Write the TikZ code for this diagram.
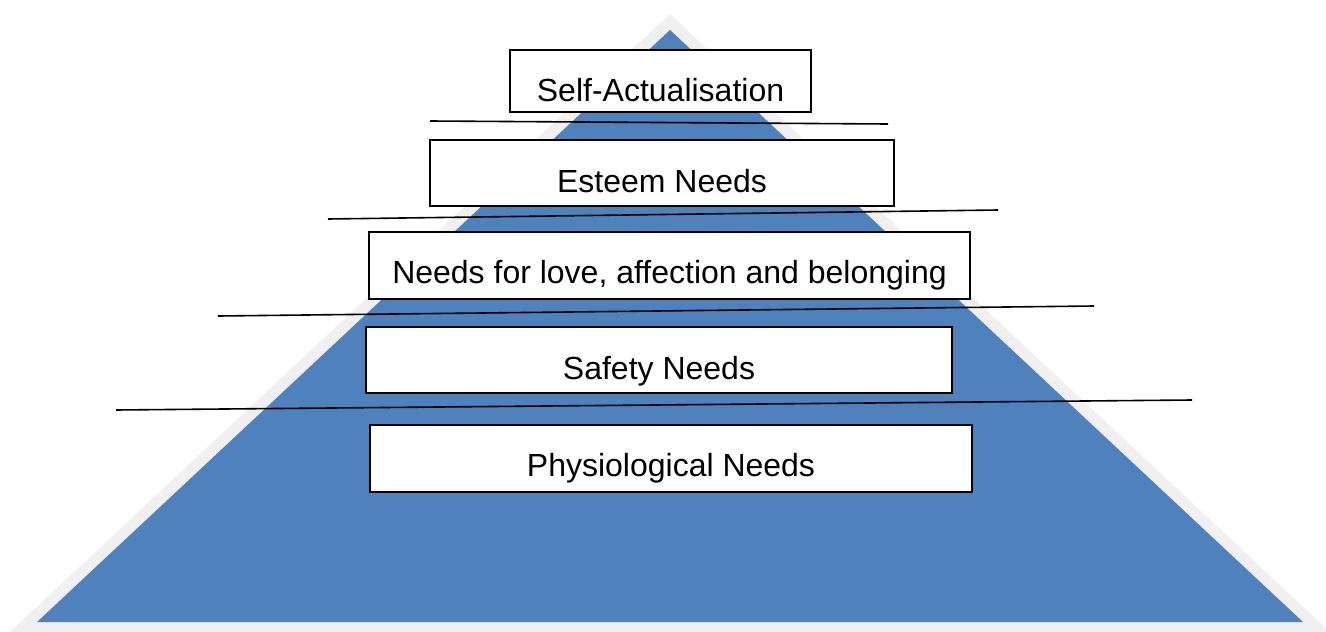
\documentclass[tikz,border=0pt]{standalone}
\usepackage{fontspec}
\setmainfont{Liberation Sans}
\definecolor{pyrblue}{HTML}{4F81BD}
\definecolor{pyrgray}{HTML}{F0F0F0}
\tikzset{
  needbox/.style={draw=black, line width=2pt, fill=white, inner sep=0pt, anchor=north west,
    font=\fontsize{32}{38}\selectfont},
  sepline/.style={draw=black, line width=1.6pt}
}
\begin{document}
\begin{tikzpicture}[x=1pt,y=-1pt]
\useasboundingbox (0,0) rectangle (1326,632);
\clip (0,0) rectangle (1326,632);
\fill[white] (0,0) rectangle (1326,632);
% triangles
\fill[pyrgray] (670,14) -- (1.4,640) -- (1338.6,640) -- cycle;
\fill[pyrblue] (670,30) -- (37,622) -- (1303,622) -- cycle;
% separator lines
\coordinate (l1a) at (430,121); \coordinate (l1b) at (888,124);
\coordinate (l2a) at (328,219); \coordinate (l2b) at (998,210);
\coordinate (l3a) at (218,316); \coordinate (l3b) at (1094,306);
\coordinate (l4a) at (116,410); \coordinate (l4b) at (1192,400);
\draw[sepline] (l1a) -- (l1b);
\draw[sepline] (l2a) -- (l2b);
\draw[sepline] (l3a) -- (l3b);
\draw[sepline] (l4a) -- (l4b);
% boxes
\node[needbox, minimum width=301pt, text height=51pt, text depth=11pt] (self) at (509,49) {Self-Actualisation};
\node[needbox, minimum width=464pt, text height=52pt, text depth=14pt] (esteem) at (429,139) {Esteem Needs};
\node[needbox, minimum width=601pt, text height=51pt, text depth=16pt] (love) at (368,231) {Needs for love, affection and belonging};
\node[needbox, minimum width=586pt, text height=52pt, text depth=14pt] (safety) at (365,326) {Safety Needs};
\node[needbox, minimum width=602pt, text height=51pt, text depth=16pt] (phys) at (369,424) {Physiological Needs};
\end{tikzpicture}
\end{document}
